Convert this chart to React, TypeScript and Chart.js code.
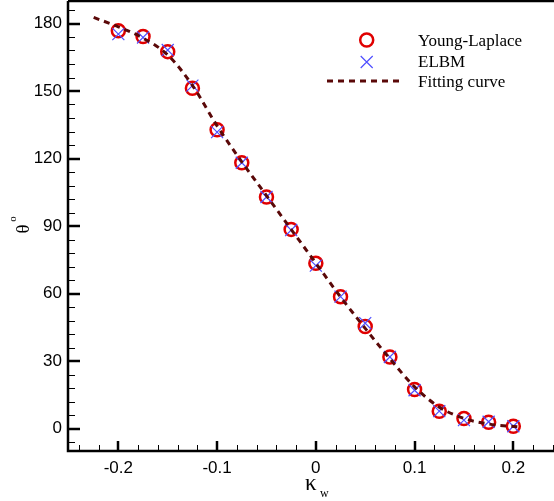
import { useEffect, useRef } from "react";
import { Chart, registerables } from "chart.js";

Chart.register(...registerables);

// Wetting parameter κw sampled by both methods
const kappa = [-0.2, -0.175, -0.15, -0.125, -0.1, -0.075, -0.05, -0.025, 0, 0.025, 0.05, 0.075, 0.1, 0.125, 0.15, 0.175, 0.2];
// Contact angle θ (degrees) from the Young-Laplace relation
const youngLaplace = [176.8, 174.2, 167.5, 151.2, 132.8, 118.1, 102.9, 88.5, 73.4, 58.6, 45.3, 31.8, 17.3, 7.7, 4.4, 2.8, 1.0];
// Contact angle θ (degrees) from the ELBM simulation
const elbm = [175.3, 173.8, 168.2, 152.4, 131.7, 118.1, 102.9, 88.2, 72.4, 58.6, 46.8, 31.8, 17.0, 7.7, 3.7, 3.0, 1.0];
// Fitted curve through the data
const fitKappa = [-0.225, -0.2, -0.175, -0.15, -0.125, -0.1, -0.075, -0.05, -0.025, 0, 0.025, 0.05, 0.075, 0.1, 0.125, 0.15, 0.175, 0.205];
const fitTheta = [182.7, 178.5, 173.5, 166.0, 152.5, 134.5, 118.5, 103.5, 88.5, 73.5, 58.5, 44.5, 31.0, 18.5, 9.5, 4.5, 2.0, 0.7];

// Axis ticks
const xMajorTicks = [-0.2, -0.1, 0, 0.1, 0.2];
const yMajorTicks = [0, 30, 60, 90, 120, 150, 180];
const xMinorStep = 0.02;
const yMinorStep = 6;

const X_MIN = -0.251;
const X_MAX = 0.2412;
const Y_MIN = -10;
const Y_MAX = 190;

const RED = "#e00000";
const BLUE = "#4f4fff";
const MAROON = "#5a0808";
const SANS = '"Liberation Sans", Arial, sans-serif';
const SERIF = '"Liberation Serif", "Times New Roman", serif';

function drawCross(ctx: CanvasRenderingContext2D, x: number, y: number, r: number) {
  ctx.beginPath();
  ctx.moveTo(x - r, y - r);
  ctx.lineTo(x + r, y + r);
  ctx.moveTo(x - r, y + r);
  ctx.lineTo(x + r, y - r);
  ctx.stroke();
}

function noEdgePadding(s: any) {
  s.paddingTop = 0;
  s.paddingBottom = 0;
  s.paddingLeft = 0;
  s.paddingRight = 0;
}

const framePlugin = {
  id: "frame",
  afterDraw(chart: any) {
    const ctx: CanvasRenderingContext2D = chart.ctx;
    const { left, right, top, bottom } = chart.chartArea;
    const xs = chart.scales.x;
    const ys = chart.scales.y;
    ctx.save();
    ctx.strokeStyle = "#000";

    // minor ticks (inward)
    ctx.lineWidth = 1;
    for (let i = -13; i <= 13; i++) {
      const v = i * xMinorStep;
      if (v < X_MIN || v > X_MAX) continue;
      if (Math.abs(Math.round(v * 10) - v * 10) < 1e-6) continue;
      const px = Math.round(xs.getPixelForValue(v)) + 0.5;
      ctx.beginPath();
      ctx.moveTo(px, bottom);
      ctx.lineTo(px, bottom - 6);
      ctx.stroke();
    }
    for (let v = -6; v <= Y_MAX; v += yMinorStep) {
      if (v % 30 === 0) continue;
      const py = Math.round(ys.getPixelForValue(v)) + 0.5;
      ctx.beginPath();
      ctx.moveTo(left, py);
      ctx.lineTo(left + 7, py);
      ctx.stroke();
    }

    // major ticks (inward)
    ctx.lineWidth = 2.5;
    xMajorTicks.forEach((v) => {
      const px = Math.round(xs.getPixelForValue(v));
      ctx.beginPath();
      ctx.moveTo(px, bottom);
      ctx.lineTo(px, bottom - 10);
      ctx.stroke();
    });
    yMajorTicks.forEach((v) => {
      const py = Math.round(ys.getPixelForValue(v));
      ctx.beginPath();
      ctx.moveTo(left, py);
      ctx.lineTo(left + 12, py);
      ctx.stroke();
    });

    // axis lines and top border
    ctx.lineWidth = 2.5;
    ctx.beginPath();
    ctx.moveTo(left, top);
    ctx.lineTo(left, bottom);
    ctx.lineTo(right, bottom);
    ctx.moveTo(left, top);
    ctx.lineTo(right, top);
    ctx.stroke();

    // legend
    ctx.font = `17px ${SERIF}`;
    ctx.fillStyle = "#000";
    ctx.textAlign = "left";
    ctx.textBaseline = "alphabetic";
    ctx.strokeStyle = RED;
    ctx.lineWidth = 2.5;
    ctx.beginPath();
    ctx.arc(366.7, 40, 6.5, 0, Math.PI * 2);
    ctx.stroke();
    ctx.fillText("Young-Laplace", 418, 46);
    ctx.strokeStyle = BLUE;
    ctx.lineWidth = 1.2;
    drawCross(ctx, 366.7, 62, 6);
    ctx.fillText("ELBM", 418, 67);
    ctx.strokeStyle = MAROON;
    ctx.lineWidth = 3;
    ctx.setLineDash([6, 5]);
    ctx.beginPath();
    ctx.moveTo(327, 81);
    ctx.lineTo(402, 81);
    ctx.stroke();
    ctx.setLineDash([]);
    ctx.fillText("Fitting curve", 418, 87);

    // x title: κ with subscript w
    ctx.font = `23px ${SERIF}`;
    ctx.fillText("κ", 305, 490);
    ctx.font = `12px ${SERIF}`;
    ctx.fillText("w", 320, 497);

    // y title: θ with superscript o, rotated
    ctx.translate(24, 229);
    ctx.rotate(-Math.PI / 2);
    ctx.textAlign = "center";
    ctx.textBaseline = "middle";
    ctx.font = `19px ${SERIF}`;
    ctx.fillText("θ", 0, 0);
    ctx.font = `11px ${SERIF}`;
    ctx.fillText("o", 10, -10.5);
    ctx.restore();
  },
};

export default function App() {
  const canvasRef = useRef<HTMLCanvasElement | null>(null);

  useEffect(() => {
    if (!canvasRef.current) return;
    const chart = new Chart(canvasRef.current, {
      type: "scatter",
      data: {
        datasets: [
          {
            label: "Fitting curve",
            type: "line",
            data: fitKappa.map((k, i) => ({ x: k, y: fitTheta[i] })),
            borderColor: MAROON,
            borderWidth: 3,
            borderDash: [6, 5],
            pointRadius: 0,
            fill: false,
            cubicInterpolationMode: "monotone",
            order: 0,
          } as any,
          {
            label: "ELBM",
            data: kappa.map((k, i) => ({ x: k, y: elbm[i] })),
            pointStyle: "crossRot",
            pointRadius: 8.5,
            borderColor: BLUE,
            borderWidth: 1.2,
            backgroundColor: BLUE,
            order: 1,
          } as any,
          {
            label: "Young-Laplace",
            data: kappa.map((k, i) => ({ x: k, y: youngLaplace[i] })),
            pointStyle: "circle",
            pointRadius: 6.5,
            borderColor: RED,
            borderWidth: 2.5,
            backgroundColor: "rgba(0,0,0,0)",
            order: 2,
          } as any,
        ],
      },
      options: {
        animation: false,
        responsive: false,
        devicePixelRatio: 1,
        layout: { autoPadding: false, padding: { top: 1, right: 0, left: 0, bottom: 0 } },
        plugins: { legend: { display: false }, tooltip: { enabled: false } },
        scales: {
          x: {
            type: "linear",
            min: X_MIN,
            max: X_MAX,
            grid: { display: false, drawTicks: false },
            border: { display: false },
            afterFit: (s: any) => {
              s.height = 50;
              noEdgePadding(s);
            },
            afterBuildTicks: (s: any) => {
              s.ticks = xMajorTicks.map((v) => ({ value: v }));
            },
            ticks: {
              color: "#000",
              padding: 7,
              maxRotation: 0,
              autoSkip: false,
              font: { family: SANS, size: 17 },
              callback: (v: any) => String(Math.round(Number(v) * 10) / 10),
            },
          },
          y: {
            type: "linear",
            min: Y_MIN,
            max: Y_MAX,
            grid: { display: false, drawTicks: false },
            border: { display: false },
            afterFit: (s: any) => {
              s.width = 68;
              noEdgePadding(s);
            },
            afterBuildTicks: (s: any) => {
              s.ticks = yMajorTicks.map((v) => ({ value: v }));
            },
            ticks: {
              color: "#000",
              padding: 6,
              autoSkip: false,
              font: { family: SANS, size: 17 },
              callback: (v: any) => String(v),
            },
          },
        },
      },
      plugins: [framePlugin],
    });
    return () => chart.destroy();
  }, []);

  return (
    <div style={{ position: "fixed", left: 0, top: 0, width: 554, height: 501, background: "#fff" }}>
      <canvas ref={canvasRef} width={554} height={501} style={{ display: "block" }} />
    </div>
  );
}
